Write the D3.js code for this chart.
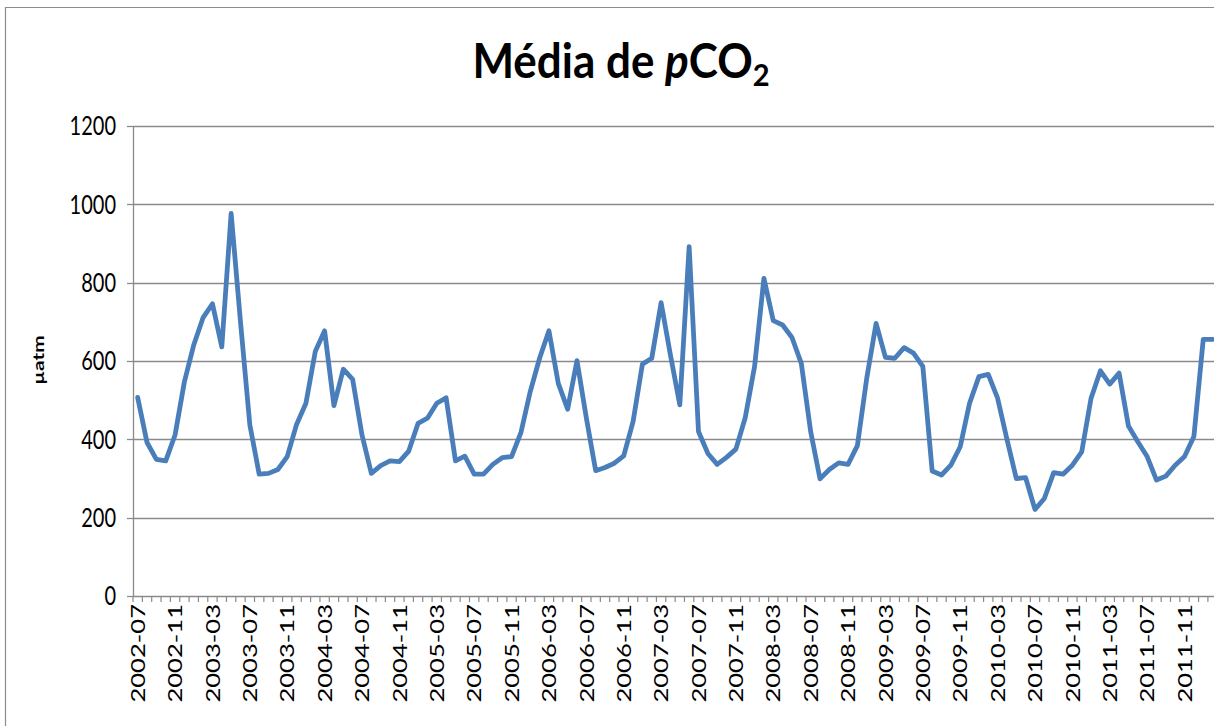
<!DOCTYPE html>
<html>
<head>
<meta charset="utf-8">
<script src="https://cdn.jsdelivr.net/npm/d3@7"></script>
<style>
html,body{margin:0;padding:0;background:#fff;overflow:hidden;}
svg{display:block;}
text{font-family:Lato, "Open Sans", sans-serif;fill:#000;}
</style>
</head>
<body>
<svg id="chart" width="1214" height="726"></svg>
<script>
// ---- data ----
const categories = [
 "2002-07","2002-08","2002-09","2002-10","2002-11","2002-12",
 "2003-01","2003-02","2003-03","2003-04","2003-05","2003-06","2003-07","2003-08","2003-09","2003-10","2003-11","2003-12",
 "2004-01","2004-02","2004-03","2004-04","2004-05","2004-06","2004-07","2004-08","2004-09","2004-10","2004-11","2004-12",
 "2005-01","2005-02","2005-03","2005-04","2005-05","2005-06","2005-07","2005-08","2005-09","2005-10","2005-11","2005-12",
 "2006-01","2006-02","2006-03","2006-04","2006-05","2006-06","2006-07","2006-08","2006-09","2006-10","2006-11","2006-12",
 "2007-01","2007-02","2007-03","2007-04","2007-05","2007-06","2007-07","2007-08","2007-09","2007-10","2007-11","2007-12",
 "2008-01","2008-02","2008-03","2008-04","2008-05","2008-06","2008-07","2008-08","2008-09","2008-10","2008-11","2008-12",
 "2009-01","2009-02","2009-03","2009-04","2009-05","2009-06","2009-07","2009-08","2009-09","2009-10","2009-11","2009-12",
 "2010-01","2010-02","2010-03","2010-04","2010-05","2010-06","2010-07","2010-08","2010-09","2010-10","2010-11","2010-12",
 "2011-01","2011-02","2011-03","2011-04","2011-05","2011-06","2011-07","2011-08","2011-09","2011-10","2011-11","2011-12",
 "2012-01","2012-02"
];
const pco2 = [
 507,392,349,345,411,547,
 641,711,746,636,977,700,437,311,313,323,356,438,
 492,624,677,486,579,553,411,313,333,345,343,370,
 441,454,492,506,345,357,311,311,336,353,356,417,
 522,607,677,543,477,601,455,320,328,339,358,445,
 592,607,749,615,488,892,420,364,336,354,375,455,
 586,811,703,692,660,594,420,299,323,340,336,384,
 556,696,609,607,634,620,586,319,309,334,381,492,
 560,566,505,400,300,302,221,249,315,311,334,368,
 505,575,541,569,434,394,356,296,306,334,356,407,
 655,655
];
const xTickLabels = [
 "2002-07","2002-11","2003-03","2003-07","2003-11","2004-03","2004-07","2004-11",
 "2005-03","2005-07","2005-11","2006-03","2006-07","2006-11","2007-03","2007-07",
 "2007-11","2008-03","2008-07","2008-11","2009-03","2009-07","2009-11","2010-03",
 "2010-07","2010-11","2011-03","2011-07","2011-11"
];
const yTicks = [0,200,400,600,800,1000,1200];

// ---- layout ----
const plotLeft = 133, plotTop = 126, plotBottom = 596, step = 9.347;
const svg = d3.select("#chart");
const rows = categories.map((c,i)=>({c, v:pco2[i]}));

const x = d3.scaleBand().domain(categories)
  .range([plotLeft, plotLeft + step*categories.length]).paddingInner(0).paddingOuter(0);
const y = d3.scaleLinear().domain([0,1200]).range([plotBottom, plotTop]);
const cx = c => x(c) + x.bandwidth()/2;

const gridColor = "#8a8a8a";

// outer border
svg.append("path").attr("d","M5.5,726 V7.5 H1214")
  .attr("fill","none").attr("stroke","#8c8c8c").attr("stroke-width",1.2);

// gridlines
svg.append("g").selectAll("line").data(yTicks.filter(t=>t>0)).join("line")
  .attr("x1",plotLeft).attr("x2",1214)
  .attr("y1",d=>Math.round(y(d))+0.5).attr("y2",d=>Math.round(y(d))+0.5)
  .attr("stroke",gridColor).attr("stroke-width",1.3);

// y axis line + ticks
svg.append("line").attr("x1",plotLeft+0.5).attr("x2",plotLeft+0.5)
  .attr("y1",plotTop).attr("y2",plotBottom).attr("stroke",gridColor).attr("stroke-width",1.3);
svg.append("g").selectAll("line").data(yTicks).join("line")
  .attr("x1",plotLeft-6).attr("x2",plotLeft)
  .attr("y1",d=>Math.round(y(d))+0.5).attr("y2",d=>Math.round(y(d))+0.5)
  .attr("stroke",gridColor).attr("stroke-width",1.3);

// y labels
svg.append("g").selectAll("text").data(yTicks).join("text")
  .attr("transform",d=>`translate(116,${y(d)}) scale(1,1.3)`)
  .attr("text-anchor","end").attr("dy","0.36em")
  .style("font-size","20px")
  .text(d=>d);

// x axis line
svg.append("line").attr("x1",plotLeft).attr("x2",1214)
  .attr("y1",plotBottom+0.5).attr("y2",plotBottom+0.5)
  .attr("stroke",gridColor).attr("stroke-width",1.3);
// x minor ticks at category boundaries
const bounds = categories.map(c=>x(c)).concat([x(categories[categories.length-1])+x.bandwidth()]);
svg.append("g").selectAll("line").data(bounds).join("line")
  .attr("x1",d=>d).attr("x2",d=>d)
  .attr("y1",plotBottom).attr("y2",plotBottom+6)
  .attr("stroke",gridColor).attr("stroke-width",1.2);

// x labels
svg.append("g").selectAll("text").data(xTickLabels).join("text")
  .attr("transform",d=>`translate(${cx(d)},604) rotate(-90) scale(1.28,1)`)
  .attr("text-anchor","end").attr("dy","0.36em")
  .style("font-size","20px")
  .text(d=>d);

// line
const line = d3.line().x(d=>cx(d.c)).y(d=>y(d.v));
svg.append("path").datum(rows)
  .attr("d",line).attr("fill","none")
  .attr("stroke","#4A7EBB").attr("stroke-width",4.8)
  .attr("stroke-linejoin","round").attr("stroke-linecap","round");

// title
const title = svg.append("text")
  .attr("transform","translate(621,78) scale(1,1.08)")
  .attr("text-anchor","middle")
  .style("font-size","44px").style("font-weight","bold");
title.append("tspan").text("Média de ");
title.append("tspan").style("font-style","italic").text("p");
title.append("tspan").text("CO");
title.append("tspan").attr("dy","7").style("font-size","29px").text("2");

// y axis title
svg.append("text")
  .attr("transform","translate(38,360) rotate(-90) scale(1.3,1)")
  .attr("text-anchor","middle").attr("dy","0.36em")
  .style("font-size","16px").style("font-weight","bold")
  .text("µatm");
</script>
</body>
</html>
